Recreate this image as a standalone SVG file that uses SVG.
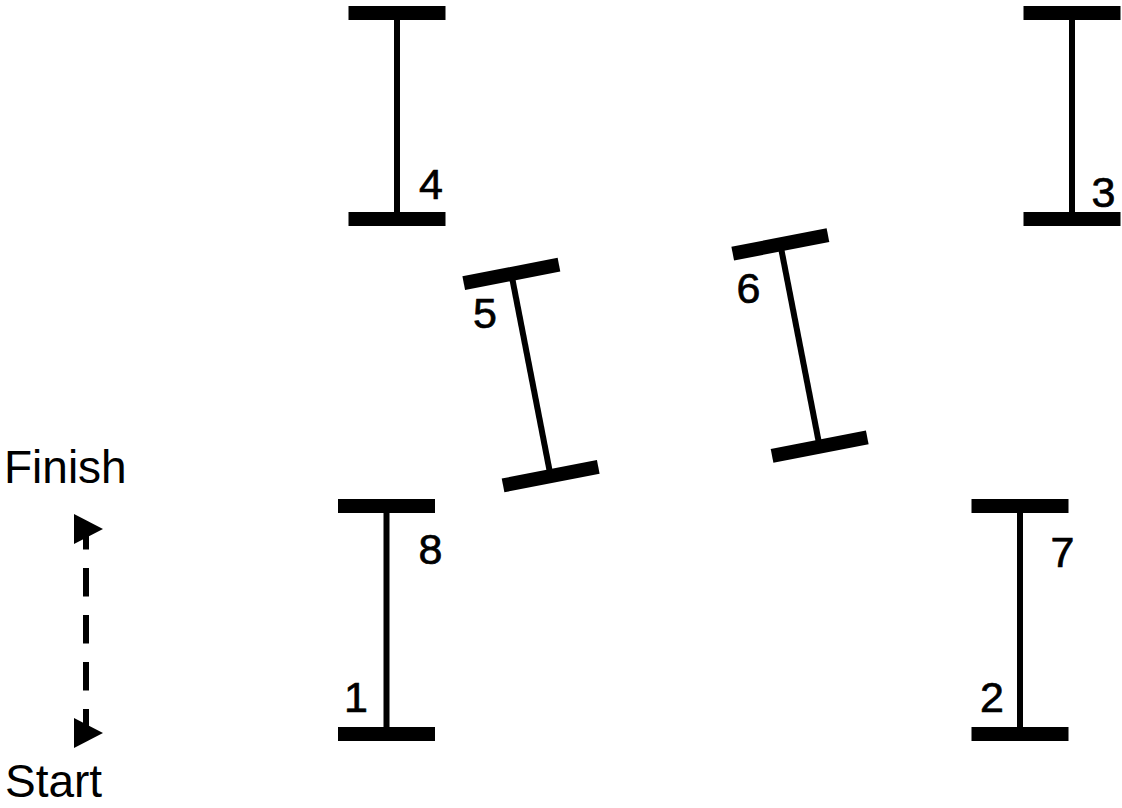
<svg xmlns="http://www.w3.org/2000/svg" width="1122" height="808" viewBox="0 0 1122 808">
<style>
.bar{fill:#000}
.stem{stroke:#000;stroke-width:6;fill:none}
.num{font-family:"Liberation Sans",Arial,sans-serif;font-size:43px;fill:#000;stroke:#000;stroke-width:0.7;text-anchor:middle}
.lbl{font-family:"Liberation Sans",Arial,sans-serif;font-size:46px;fill:#000}
.flow{stroke:#000;stroke-width:6;fill:none;stroke-dasharray:28.5 18.5;stroke-dashoffset:8}
</style>
<defs>
<symbol id="gateS" overflow="visible">
<rect class="bar" x="-48.5" y="-110" width="97" height="14"/>
<rect class="bar" x="-48.5" y="96" width="97" height="14"/>
<line class="stem" x1="0" y1="-103" x2="0" y2="103"/>
</symbol>
<symbol id="gateL" overflow="visible">
<rect class="bar" x="-48.5" y="-121" width="97" height="14"/>
<rect class="bar" x="-48.5" y="107" width="97" height="14"/>
<line class="stem" x1="0" y1="-114" x2="0" y2="114"/>
</symbol>
<marker id="tri" markerUnits="userSpaceOnUse" markerWidth="30" markerHeight="30" refX="12" refY="15" orient="0" viewBox="0 0 30 30">
<path d="M0,0 L29,15 L0,30 z" fill="#000"/>
</marker>
</defs>
<g id="gate4">
<use href="#gateS" x="397" y="116"/>
<text class="num" x="431" y="199">4</text>
</g>
<g id="gate3">
<use href="#gateS" x="1072" y="116"/>
<text class="num" x="1103.5" y="207">3</text>
</g>
<g id="gate5">
<use href="#gateS" transform="translate(531,375) rotate(-11)"/>
<text class="num" x="485" y="328">5</text>
</g>
<g id="gate6">
<use href="#gateS" transform="translate(800,345.5) rotate(-11)"/>
<text class="num" x="748.5" y="303">6</text>
</g>
<g id="gate18">
<use href="#gateL" x="386.5" y="620"/>
<text class="num" x="430.5" y="564">8</text>
<text class="num" x="356" y="712">1</text>
</g>
<g id="gate27">
<use href="#gateL" x="1020" y="620"/>
<text class="num" x="1062.5" y="567">7</text>
<text class="num" x="992" y="712">2</text>
</g>
<g id="finish">
<text class="lbl" x="4" y="483">Finish</text>
</g>
<g id="start">
<text class="lbl" x="5" y="797">Start</text>
</g>
<g id="connectors">
<line class="flow" x1="86" y1="529" x2="86" y2="733" marker-start="url(#tri)" marker-end="url(#tri)"/>
</g>
</svg>
